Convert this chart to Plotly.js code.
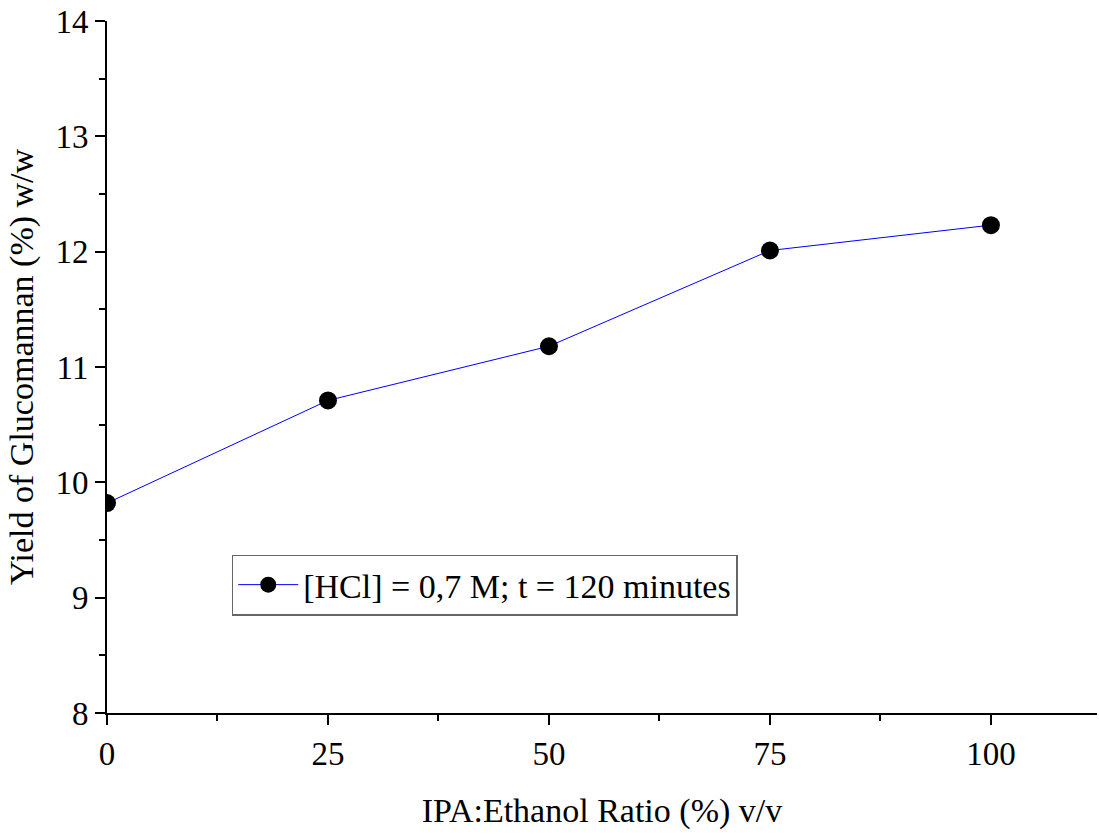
<!DOCTYPE html>
<html>
<head>
<meta charset="utf-8">
<script src="https://cdn.plot.ly/plotly-3.0.1.min.js"></script>
<style>html,body{margin:0;padding:0;background:#fff;}#chart{width:1099px;height:838px;}</style>
</head>
<body>
<div id="chart"></div>
<script>
const ratio = [0, 25, 50, 75, 100];
const yieldVals = [9.82, 10.71, 11.18, 12.01, 12.23];
const seriesName = "[HCl] = 0,7 M; t = 120 minutes";
const xTicks = [0, 25, 50, 75, 100];
const yTicks = [8, 9, 10, 11, 12, 13, 14];

const font = {family: "Liberation Serif, Times New Roman, serif", color: "#000"};

const trace = {
  x: ratio, y: yieldVals, name: seriesName,
  type: "scatter", mode: "lines+markers",
  line: {color: "#0000ff", width: 1},
  marker: {color: "#000", size: 18, symbol: "circle"},
  cliponaxis: true
};

const layout = {
  width: 1099, height: 838,
  margin: {l: 107, r: 2, t: 21, b: 125},
  paper_bgcolor: "#fff", plot_bgcolor: "#fff",
  showlegend: true,
  legend: {
    x: 0.126, y: 0.229, xanchor: "left", yanchor: "top",
    bordercolor: "#666", borderwidth: 1.5, bgcolor: "#fff",
    font: Object.assign({}, font, {size: 34}),
    tracegroupgap: 0, itemwidth: 60
  },
  xaxis: {
    range: [0, 112], tickvals: xTicks, ticktext: xTicks.map(String),
    showgrid: false, zeroline: false, showline: true, linecolor: "#000", linewidth: 2,
    ticks: "outside", ticklen: 10, tickwidth: 2, tickcolor: "#000",
    minor: {tickvals: [12.5, 37.5, 62.5, 87.5], ticks: "outside", ticklen: 6, tickwidth: 2, tickcolor: "#000"},
    tickfont: Object.assign({}, font, {size: 33}),
    title: {text: "IPA:Ethanol Ratio (%) v/v", font: Object.assign({}, font, {size: 34}), standoff: 28}
  },
  yaxis: {
    range: [8, 14], tickvals: yTicks, ticktext: yTicks.map(String),
    showgrid: false, zeroline: false, showline: true, linecolor: "#000", linewidth: 2,
    ticks: "outside", ticklen: 10, tickwidth: 2, tickcolor: "#000",
    minor: {tickvals: [8.5, 9.5, 10.5, 11.5, 12.5, 13.5], ticks: "outside", ticklen: 6, tickwidth: 2, tickcolor: "#000"},
    tickfont: Object.assign({}, font, {size: 33}),
    title: {text: "Yield of Glucomannan (%) w/w", font: Object.assign({}, font, {size: 34}), standoff: 12}
  }
};

Plotly.newPlot("chart", [trace], layout, {displayModeBar: false, staticPlot: true});
</script>
</body>
</html>
